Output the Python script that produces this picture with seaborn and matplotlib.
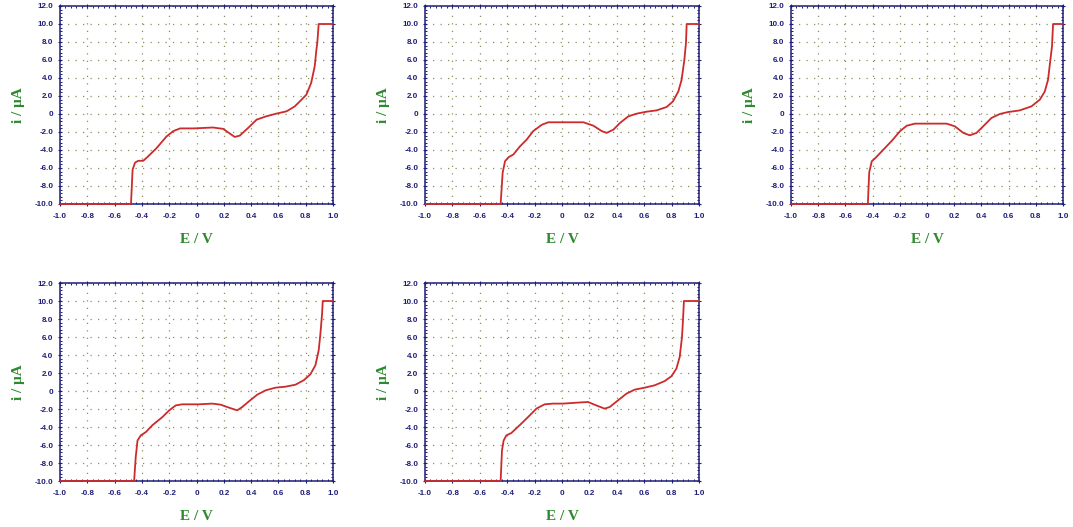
import matplotlib
matplotlib.use("Agg")
import matplotlib.pyplot as plt
from matplotlib.ticker import MultipleLocator, FuncFormatter
import seaborn as sns
import pandas as pd

sns.set_style("white")
plt.rcParams["font.family"] = ["Liberation Sans", "DejaVu Sans"]

# Linear sweep voltammograms: potential (V) and current (uA) for five runs
e1 = [-1.0, -0.48, -0.468, -0.45, -0.427, -0.39, -0.354, -0.293, -0.22, -0.17, -0.12,
      -0.02, 0.12, 0.195, 0.28, 0.317, 0.378, 0.44, 0.51, 0.585, 0.66, 0.72, 0.77,
      0.805, 0.84, 0.866, 0.878, 0.885, 0.895, 1.0]
i1 = [-10.0, -10.0, -6.17, -5.4, -5.2, -5.2, -4.7, -3.8, -2.5, -1.9, -1.6,
      -1.6, -1.5, -1.65, -2.55, -2.4, -1.55, -0.63, -0.26, 0.04, 0.3, 0.85, 1.6,
      2.15, 3.45, 5.3, 7.1, 7.9, 10.0, 10.0]

e2 = [-1.0, -0.448, -0.433, -0.416, -0.39, -0.355, -0.307, -0.258, -0.21, -0.148, -0.1,
      -0.015, 0.156, 0.229, 0.29, 0.326, 0.375, 0.423, 0.484, 0.545, 0.618, 0.69,
      0.764, 0.81, 0.849, 0.873, 0.893, 0.905, 0.91, 1.0]
i2 = [-10.0, -10.0, -6.5, -5.25, -4.8, -4.5, -3.6, -2.85, -1.9, -1.2, -0.92,
      -0.92, -0.92, -1.3, -1.9, -2.1, -1.74, -1.0, -0.26, 0.04, 0.26, 0.4,
      0.78, 1.4, 2.5, 3.8, 6.0, 7.9, 10.0, 10.0]

e3 = [-1.0, -0.435, -0.425, -0.406, -0.38, -0.32, -0.26, -0.198, -0.149, -0.088, 0.0,
      0.144, 0.205, 0.267, 0.315, 0.364, 0.413, 0.474, 0.535, 0.597, 0.682, 0.768,
      0.83, 0.866, 0.89, 0.907, 0.919, 0.927, 1.0]
i3 = [-10.0, -10.0, -6.5, -5.25, -4.9, -3.95, -3.0, -1.9, -1.3, -1.07, -1.07,
      -1.07, -1.37, -2.1, -2.37, -2.1, -1.37, -0.44, 0.0, 0.22, 0.4, 0.85,
      1.6, 2.5, 3.8, 6.0, 7.5, 10.0, 10.0]

e4 = [-1.0, -0.457, -0.445, -0.432, -0.408, -0.371, -0.323, -0.25, -0.2, -0.152, -0.104,
      0.018, 0.116, 0.177, 0.238, 0.298, 0.335, 0.384, 0.445, 0.506, 0.578, 0.652,
      0.725, 0.786, 0.834, 0.871, 0.895, 0.908, 0.92, 0.925, 1.0]
i4 = [-10.0, -10.0, -7.3, -5.5, -4.93, -4.56, -3.8, -2.9, -2.15, -1.6, -1.48,
      -1.48, -1.4, -1.52, -1.85, -2.15, -1.78, -1.15, -0.41, 0.07, 0.37, 0.48,
      0.7, 1.2, 1.85, 2.85, 4.5, 6.4, 8.6, 10.0, 10.0]

e5 = [-1.0, -0.448, -0.438, -0.426, -0.406, -0.37, -0.309, -0.248, -0.187, -0.127, -0.066,
      0.007, 0.105, 0.19, 0.25, 0.311, 0.348, 0.409, 0.47, 0.53, 0.603, 0.676,
      0.749, 0.798, 0.835, 0.859, 0.876, 0.883, 0.89, 1.0]
i5 = [-10.0, -10.0, -6.6, -5.5, -4.93, -4.67, -3.8, -2.9, -1.96, -1.48, -1.4,
      -1.4, -1.3, -1.22, -1.6, -1.96, -1.78, -1.04, -0.3, 0.15, 0.37, 0.63,
      1.1, 1.63, 2.48, 3.78, 6.0, 7.85, 10.0, 10.0]

runs = [(e1, i1), (e2, i2), (e3, i3), (e4, i4), (e5, i5)]

W, H = 1073, 527
# axes boxes in pixels: left, right, top, bottom
boxes = [(60, 333, 6, 204), (425, 699, 6, 204), (791, 1063, 6, 204),
         (60, 333, 283, 481), (425, 699, 283, 481)]

navy = "#1e1e78"
green = "#2e8a2e"
red = "#cc2b2b"
grid_c = "#8e8e5c"

fig = plt.figure(figsize=(W / 100, H / 100), dpi=100)
fig.patch.set_facecolor("white")


def xfmt(v, _):
    if abs(v) < 1e-9:
        return "0"
    return f"{v:.1f}"


for (e, i), (l, r, t, b) in zip(runs, boxes):
    ax = fig.add_axes([l / W, 1 - b / H, (r - l) / W, (b - t) / H])
    df = pd.DataFrame({"E": e, "i": i})
    sns.lineplot(data=df, x="E", y="i", ax=ax, sort=False, estimator=None,
                 color=red, linewidth=1.3, zorder=3)
    for ln in ax.get_lines():
        ln.set_clip_on(False)
    ax.set_xlim(-1.0, 1.0)
    ax.set_ylim(-10.0, 12.0)
    ax.xaxis.set_major_locator(MultipleLocator(0.2))
    ax.xaxis.set_minor_locator(MultipleLocator(0.04))
    ax.yaxis.set_major_locator(MultipleLocator(2.0))
    ax.yaxis.set_minor_locator(MultipleLocator(0.4))
    ax.xaxis.set_major_formatter(FuncFormatter(xfmt))
    ax.yaxis.set_major_formatter(FuncFormatter(xfmt))
    for s in ax.spines.values():
        s.set_color(navy)
        s.set_linewidth(1.1)
        s.set_zorder(2)
    ax.tick_params(which="major", direction="inout", length=3.5, width=0.8,
                   color=navy, labelcolor=navy, labelsize=5.8, pad=3,
                   top=True, right=True, bottom=True, left=True)
    ax.tick_params(axis="x", which="major", pad=5)
    ax.tick_params(which="minor", direction="in", length=1.6, width=0.7,
                   color=navy, top=True, right=True, bottom=True, left=True)
    for lab in ax.get_xticklabels() + ax.get_yticklabels():
        lab.set_fontweight("bold")
    ax.grid(True, which="major", color=grid_c, linestyle=(0, (1, 5)),
            linewidth=0.9, zorder=1)
    ax.set_xlabel("E / V", family=["Liberation Serif", "DejaVu Serif"],
                  fontweight="bold", fontsize=11, color=green, labelpad=9)
    ax.set_ylabel("i / μA", family=["Liberation Serif", "DejaVu Serif"],
                  fontweight="bold", fontsize=11, color=green, labelpad=7)

fig.savefig("out.png", dpi=100, facecolor="white")
